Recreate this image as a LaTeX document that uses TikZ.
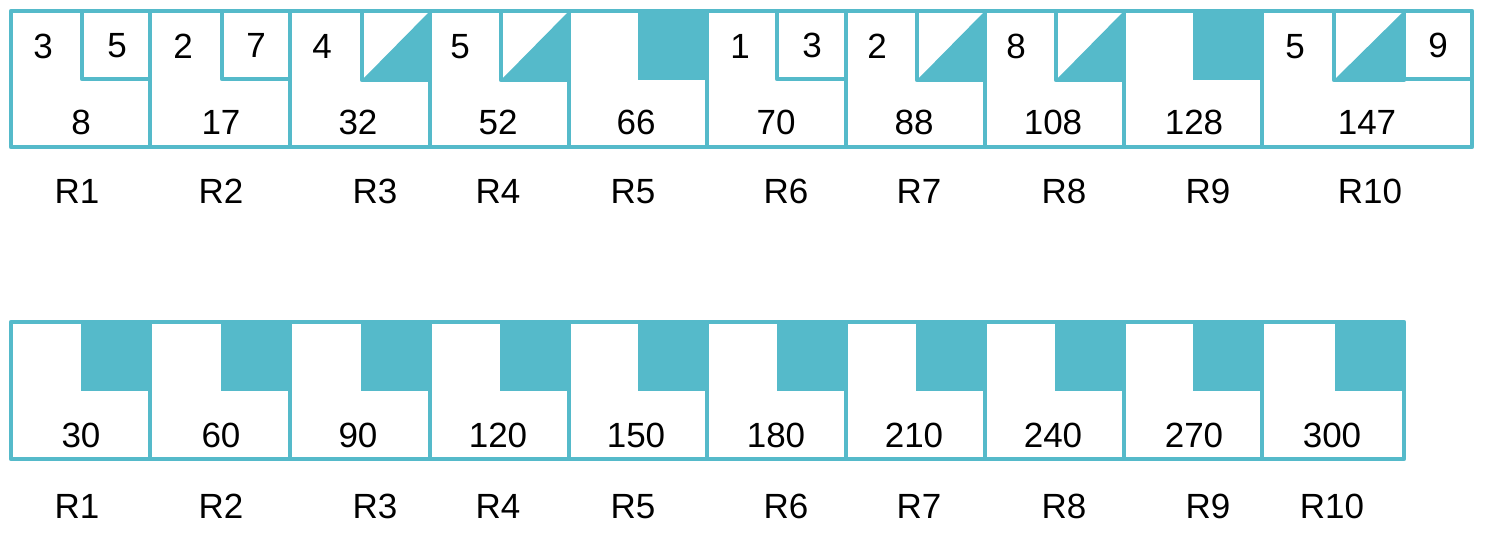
\documentclass[tikz,border=0pt]{standalone}
\usepackage{fontspec}
\setmainfont{Liberation Sans}
\definecolor{cellc}{HTML}{55BACA}
\begin{document}
\begin{tikzpicture}[x=1pt,y=-1pt,line width=4.4pt,line join=round,
  num/.style={font=\fontsize{35}{40}\selectfont,inner sep=0pt,anchor=base,yshift=-12.5pt},
  edge/.style={draw=cellc},
  blk/.style={fill=cellc}]
\useasboundingbox (0,0) rectangle (1490,536);
% ---------- top row ----------
% filled squares
\fill[blk] (638,11) rectangle (707,80);
\fill[blk] (1193,11) rectangle (1262,80);
% triangles
\fill[blk] (362,80) -- (430,80) -- (430,11) -- cycle;
\fill[blk] (501,80) -- (569,80) -- (569,11) -- cycle;
\fill[blk] (917,80) -- (985,80) -- (985,11) -- cycle;
\fill[blk] (1056,80) -- (1124,80) -- (1124,11) -- cycle;
\fill[blk] (1334,80) -- (1404,80) -- (1404,11) -- cycle;
% small box outlines
\draw[edge] (82,11) -- (82,79) -- (150,79);
\draw[edge] (222,11) -- (222,79) -- (290,79);
\draw[edge] (362,11) -- (362,80) -- (430,80);
\draw[edge] (501,11) -- (501,80) -- (569,80);
\draw[edge] (777,11) -- (777,79) -- (846,79);
\draw[edge] (917,11) -- (917,80) -- (985,80);
\draw[edge] (1056,11) -- (1056,80) -- (1124,80);
\draw[edge] (1334,11) -- (1334,80) -- (1404,80) -- (1404,11);
\draw[edge] (1404,79) -- (1472,79);
% frame and dividers
\draw[edge] (11,11) rectangle (1472,147);
\foreach \x in {150,290,430,569,707,846,985,1124,1262}
  \draw[edge] (\x,11) -- (\x,147);
% top numbers
\node[num] (a1) at (43,46) {3};
\node[num] (b1) at (117,45) {5};
\node[num] (a2) at (183,46) {2};
\node[num] (b2) at (256,45) {7};
\node[num] (a3) at (322,46) {4};
\node[num] (a4) at (460,46) {5};
\node[num] (a6) at (740,46) {1};
\node[num] (b6) at (812,45) {3};
\node[num] (a7) at (877,46) {2};
\node[num] (a8) at (1016,46) {8};
\node[num] (a10) at (1295,46) {5};
\node[num] (b10) at (1438,45) {9};
% sums top
\node[num] (s1) at (81,122) {8};
\node[num] (s2) at (221,122) {17};
\node[num] (s3) at (358,122) {32};
\node[num] (s4) at (498,122) {52};
\node[num] (s5) at (636,122) {66};
\node[num] (s6) at (776,122) {70};
\node[num] (s7) at (914,122) {88};
\node[num] (s8) at (1053,122) {108};
\node[num] (s9) at (1194,122) {128};
\node[num] (s10) at (1367,122) {147};
% labels top
\foreach \n/\x in {1/77,2/221,3/375,4/498,5/633,6/786,7/919,8/1064,9/1208,10/1370}
  \node[num] (rt\n) at (\x,191) {R\n};
% ---------- bottom row ----------
\foreach \x in {150,290,430,569,707,846,985,1124,1262,1404}
  \fill[blk] (\x-69,322) rectangle (\x,391);
\draw[edge] (11,322) rectangle (1404,459);
\foreach \x in {150,290,430,569,707,846,985,1124,1262}
  \draw[edge] (\x,322) -- (\x,459);
\foreach \n/\x/\v in {1/81/30,2/221/60,3/358/90,4/498/120,5/636/150,6/776/180,7/914/210,8/1053/240,9/1194/270,10/1332/300}
  \node[num] (sb\n) at (\x,435) {\v};
\foreach \n/\x in {1/77,2/221,3/375,4/498,5/633,6/786,7/919,8/1064,9/1208,10/1332}
  \node[num] (rb\n) at (\x,506) {R\n};
\end{tikzpicture}
\end{document}
